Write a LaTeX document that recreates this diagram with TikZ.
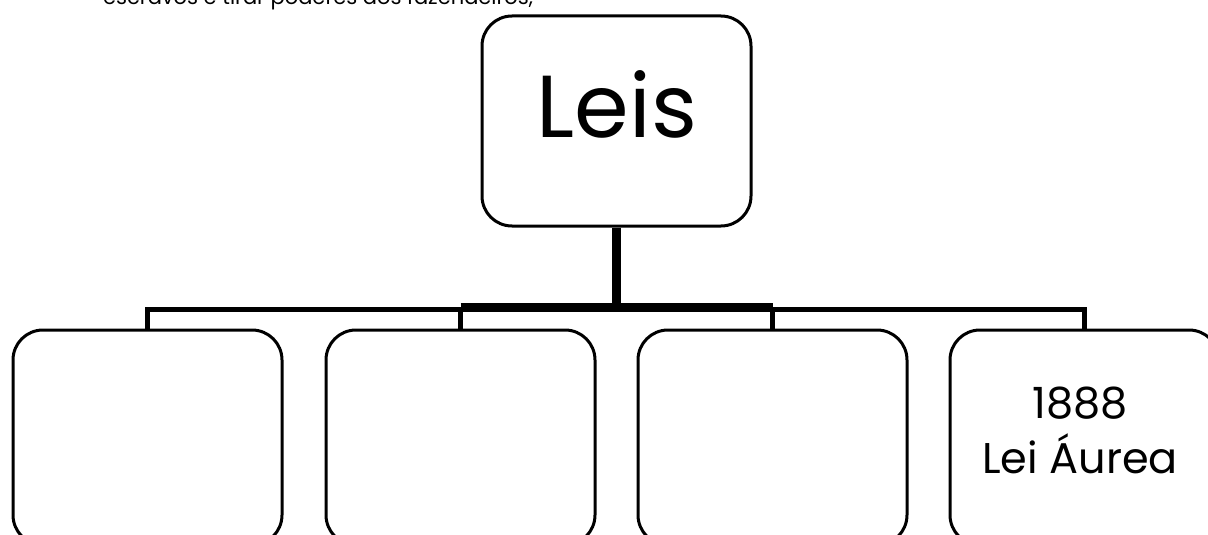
\documentclass[tikz,border=0pt]{standalone}
\usepackage{fontspec}
\setmainfont{Poppins}
\usepackage{tikz}
\usetikzlibrary{calc}
\newcommand{\boxwidth}{269}
\newcommand{\boxheight}{215}

\begin{document}
\begin{tikzpicture}[x=1pt,y=-1pt,
	caixa/.style={draw, line width=3pt, rounded corners=30pt, inner sep=0pt,
		minimum width=\boxwidth pt, minimum height=\boxheight pt},
	tronco/.style={line width=9pt},
	barra/.style={line width=5pt}]
	\clip (0,0) rectangle (1208,535);

	\node[anchor=base west, inner sep=0pt, font=\fontsize{21}{25}\selectfont] (frase) at (103,5) {escravos e tirar poderes dos fazendeiros,};

	\node[caixa, minimum height=210pt] (leis) at (616.5,121) {};
	\node[caixa] (c1) at (147.5,437.5) {};
	\node[caixa] (c2) at (460.5,437.5) {};
	\node[caixa] (c3) at (772.5,437.5) {};
	\node[caixa] (c4) at (1084.5,437.5) {};
	\coordinate (bus) at (616.5,307.5);

	\node[anchor=base, inner sep=0pt, font=\fontsize{88}{100}\selectfont] (titulo) at (617,137) {Leis};
	\node[anchor=base, inner sep=0pt, font=\fontsize{43}{50}\selectfont] (ano) at (1080,418) {1888};
	\node[anchor=base, inner sep=0pt, font=\fontsize{43}{50}\selectfont] (lei) at (1080,473) {Lei Áurea};

	\draw[tronco] (leis.south) -- (bus);
	\draw[tronco] (c2.north |- bus) -- (c3.north |- bus);
	\draw[barra] (c1.north) |- ($(c2.north |- bus)+(0,1.5)$);
	\draw[barra] (c4.north) |- ($(c3.north |- bus)+(0,1.5)$);
	\draw[barra] (c2.north) -- (c2.north |- bus);
	\draw[barra] (c3.north) -- (c3.north |- bus);
\end{tikzpicture}
\end{document}
